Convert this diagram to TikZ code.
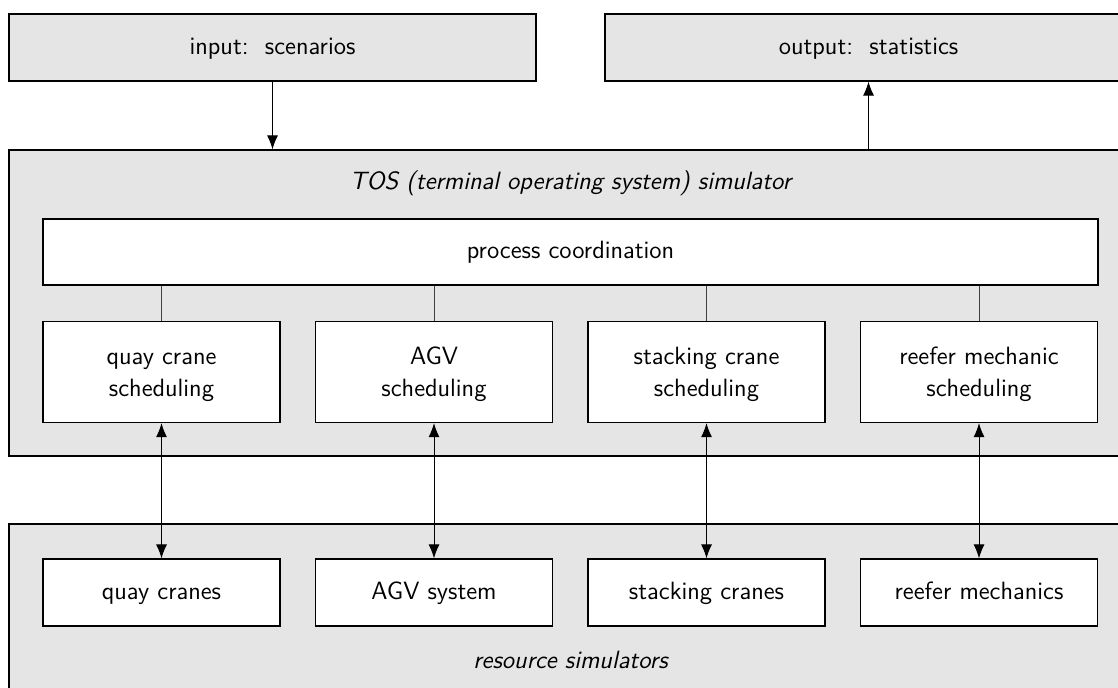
\documentclass[tikz,border=0pt]{standalone}
\usetikzlibrary{arrows.meta}
\newcommand{\topline}{\rule{0pt}{11pt}}
\begin{document}
\begin{tikzpicture}[x=0.5pt,y=-0.5pt,
  font=\sffamily\fontsize{12.5}{16}\selectfont,
  fixed/.style={text height=2ex, text depth=0.45ex},
  graybox/.style={draw=black, line width=0.6pt, fill=black!10, inner sep=0pt, fixed},
  whitebox/.style={draw=black, line width=0.6pt, fill=white, inner sep=0pt, align=center},
  lbl/.style={font=\sffamily\itshape\fontsize{12.5}{16}\selectfont, inner sep=0pt, fixed},
  link/.style={draw=black!75, line width=0.5pt},
  arr/.style={draw=black, line width=0.5pt, -{Latex[length=7pt,width=5.5pt]}},
  darr/.style={draw=black, line width=0.5pt, {Latex[length=7pt,width=5.5pt]}-{Latex[length=7pt,width=5.5pt]}}
]
\useasboundingbox (0,0) rectangle (1118,687);
\clip (0,0) rectangle (1118,687);
\fill[white] (0,0) rectangle (1118,687);

% top boxes
\node[graybox, minimum width=263.5pt, minimum height=33.5pt] (in) at (272.5,47.5) {input:\ \ scenarios};
\node[graybox, minimum width=263.5pt, minimum height=33.5pt] (out) at (868.5,47.5) {output:\ \ statistics};

% TOS simulator
\node[graybox, minimum width=561.5pt, minimum height=153pt] (tos) at (570.5,303) {};
\node[lbl] (toslbl) at (570.5,183) {TOS (terminal operating system) simulator};
\node[whitebox, fixed, minimum width=527.5pt, minimum height=33pt] (proc) at (570.5,252) {process coordination};

\node[whitebox, minimum width=118.5pt, minimum height=50.5pt] (s1) at (161.5,372) {\topline quay crane\\scheduling};
\node[whitebox, minimum width=118.5pt, minimum height=50.5pt] (s2) at (434,372) {\topline AGV\\scheduling};
\node[whitebox, minimum width=118.5pt, minimum height=50.5pt] (s3) at (706.5,372) {\topline stacking crane\\scheduling};
\node[whitebox, minimum width=118.5pt, minimum height=50.5pt] (s4) at (979,372) {\topline reefer mechanic\\scheduling};

% resource simulators
\node[graybox, minimum width=561.5pt, minimum height=85.5pt] (res) at (570.5,609.5) {};
\node[lbl] (reslbl) at (570.5,662) {resource simulators};
\node[whitebox, fixed, minimum width=118.5pt, minimum height=33.5pt] (r1) at (161.5,592.5) {quay cranes};
\node[whitebox, fixed, minimum width=118.5pt, minimum height=33.5pt] (r2) at (434,592.5) {AGV system};
\node[whitebox, fixed, minimum width=118.5pt, minimum height=33.5pt] (r3) at (706.5,592.5) {stacking cranes};
\node[whitebox, fixed, minimum width=118.5pt, minimum height=33.5pt] (r4) at (979,592.5) {reefer mechanics};

% connectors
\draw[arr] (in.south) -- (in.south |- tos.north);
\draw[arr] (out.south |- tos.north) -- (out.south);
\foreach \i in {1,2,3,4}{
  \draw[link] (s\i.north |- proc.south) -- (s\i.north);
  \draw[darr] (s\i.south) -- (r\i.north);
}
\end{tikzpicture}
\end{document}
